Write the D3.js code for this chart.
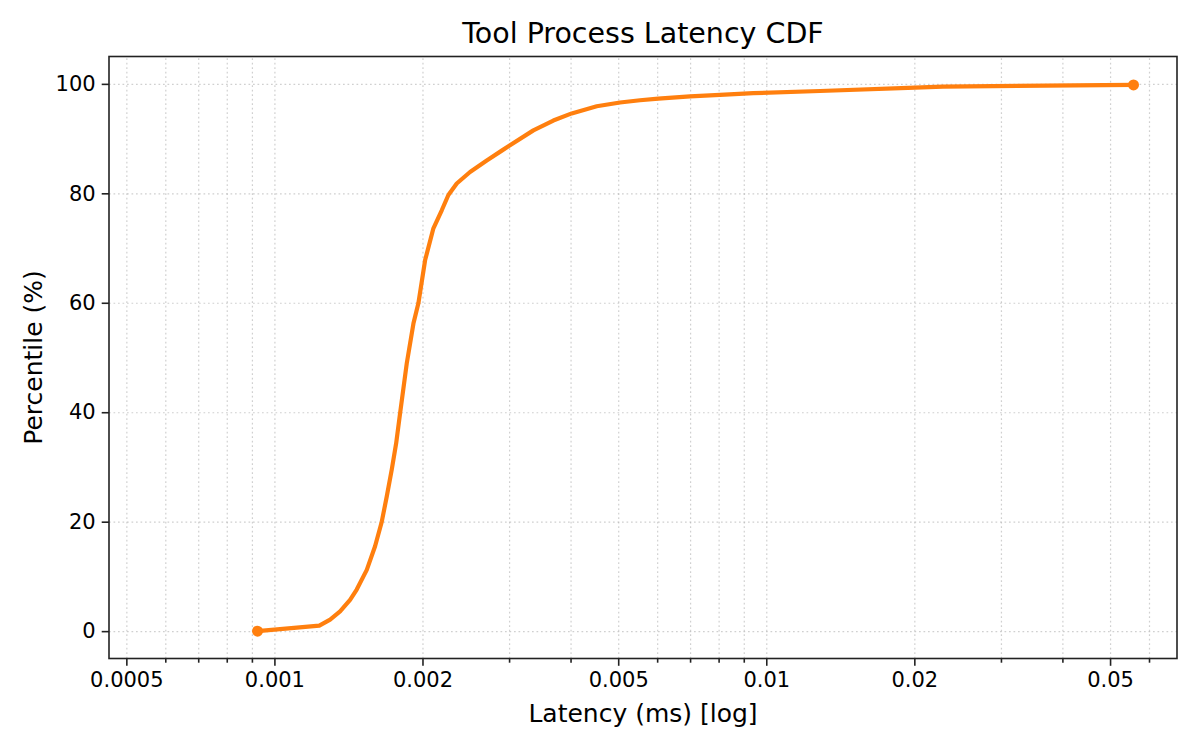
<!DOCTYPE html>
<html>
<head>
<meta charset="utf-8">
<script src="https://cdn.jsdelivr.net/npm/d3@7"></script>
<style>
  body { margin: 0; background: #fff; }
  svg text { font-family: "DejaVu Sans", sans-serif; }
  .grid line { stroke: #b0b0b0; stroke-opacity: 0.6; stroke-width: 1.2; stroke-dasharray: 1.7 2.8; }
  .grid path { display: none; }
  .axis path, .axis line { stroke: #222; stroke-width: 1.6; }
  .axis text { fill: #000; font-size: 21px; }
</style>
</head>
<body>
<div id="chart"></div>
<script>
// latency (ms) vs percentile
const latencyMs = [0.000924, 0.001234, 0.001298, 0.001360, 0.001425, 0.001470, 0.001541, 0.001602,
  0.001653, 0.001692, 0.001732, 0.001768, 0.001801, 0.001858, 0.001917, 0.001962, 0.002025,
  0.002105, 0.002189, 0.002258, 0.002348, 0.002499, 0.002702, 0.002899, 0.003013,
  0.003361, 0.003690, 0.004022, 0.004522, 0.005043, 0.005537, 0.006033, 0.006997, 0.008052,
  0.009410, 0.01286, 0.02006, 0.02286, 0.05580];
const percentile = [0, 1.0, 2.1, 3.6, 5.7, 7.6, 11.2, 15.5,
  20.0, 24.6, 29.5, 34.3, 39.8, 48.9, 56.2, 59.9, 67.8,
  73.6, 76.9, 79.7, 81.8, 83.9, 86.0, 87.8, 88.8,
  91.5, 93.3, 94.6, 95.9, 96.6, 97.0, 97.3, 97.7, 98.0,
  98.3, 98.7, 99.3, 99.5, 99.8];

const xLabelTicks = [0.0005, 0.001, 0.002, 0.005, 0.01, 0.02, 0.05];
const xLabelText = ['0.0005', '0.001', '0.002', '0.005', '0.01', '0.02', '0.05'];
const xMinorTicks = [0.0006, 0.0007, 0.0008, 0.0009, 0.003, 0.004, 0.006, 0.007, 0.008, 0.009, 0.03, 0.04, 0.06];
const yTicks = [0, 20, 40, 60, 80, 100];

const width = 1200;
const height = 750;
const plotLeft = 109, plotRight = 1177, plotTop = 56.5, plotBottom = 658.5;

const svg = d3.select('#chart')
              .append('svg')
              .attr('width', width)
              .attr('height', height);

const xScale = d3.scaleLog()
                 .domain([0.000461, 0.0684])
                 .range([plotLeft, plotRight]);

const yScale = d3.scaleLinear()
                 .domain([-5, 105])
                 .range([plotBottom, plotTop]);

// grid
svg.append('g')
   .attr('class', 'grid')
   .attr('transform', 'translate(0, ' + plotBottom + ')')
   .call(d3.axisBottom(xScale).tickValues(xLabelTicks.concat(xMinorTicks)).tickSize(-(plotBottom - plotTop)).tickFormat(''));

svg.append('g')
   .attr('class', 'grid')
   .attr('transform', 'translate(' + plotLeft + ', 0)')
   .call(d3.axisLeft(yScale).tickValues(yTicks).tickSize(-(plotRight - plotLeft)).tickFormat(''));

// line
const line = d3.line()
               .x((d, i) => xScale(latencyMs[i]))
               .y((d) => yScale(d));

svg.append('path')
   .datum(percentile)
   .attr('d', line)
   .attr('fill', 'none')
   .attr('stroke', '#ff7f0e')
   .attr('stroke-width', 4.2)
   .attr('stroke-linejoin', 'round')
   .attr('stroke-linecap', 'round');

const ends = [0, percentile.length - 1];
svg.selectAll('circle.end')
   .data(ends)
   .enter()
   .append('circle')
   .attr('class', 'end')
   .attr('cx', (i) => xScale(latencyMs[i]))
   .attr('cy', (i) => yScale(percentile[i]))
   .attr('r', 5.5)
   .attr('fill', '#ff7f0e');

// axes
const xAxis = svg.append('g')
   .attr('class', 'axis')
   .attr('transform', 'translate(0, ' + plotBottom + ')')
   .call(d3.axisBottom(xScale).tickValues(xLabelTicks).tickSize(7.3).tickPadding(6)
           .tickFormat((d, i) => xLabelText[i]));
xAxis.select('.domain').remove();

const xMinor = svg.append('g')
   .attr('class', 'axis')
   .attr('transform', 'translate(0, ' + plotBottom + ')')
   .call(d3.axisBottom(xScale).tickValues(xMinorTicks).tickSize(4.2).tickFormat(''));
xMinor.select('.domain').remove();

const yAxis = svg.append('g')
   .attr('class', 'axis')
   .attr('transform', 'translate(' + plotLeft + ', 0)')
   .call(d3.axisLeft(yScale).tickValues(yTicks).tickSize(7.3).tickPadding(6));
yAxis.select('.domain').remove();

// frame
svg.append('rect')
   .attr('x', plotLeft)
   .attr('y', plotTop)
   .attr('width', plotRight - plotLeft)
   .attr('height', plotBottom - plotTop)
   .attr('fill', 'none')
   .attr('stroke', '#222')
   .attr('stroke-width', 1.6);

// titles
svg.append('text')
   .attr('x', (plotLeft + plotRight) / 2)
   .attr('y', 43)
   .attr('text-anchor', 'middle')
   .attr('font-size', 28.5)
   .text('Tool Process Latency CDF');

svg.append('text')
   .attr('x', (plotLeft + plotRight) / 2)
   .attr('y', 722)
   .attr('text-anchor', 'middle')
   .attr('font-size', 25)
   .text('Latency (ms) [log]');

svg.append('text')
   .attr('transform', 'rotate(-90)')
   .attr('x', -(plotTop + plotBottom) / 2)
   .attr('y', 42)
   .attr('text-anchor', 'middle')
   .attr('font-size', 25)
   .text('Percentile (%)');
</script>
</body>
</html>
